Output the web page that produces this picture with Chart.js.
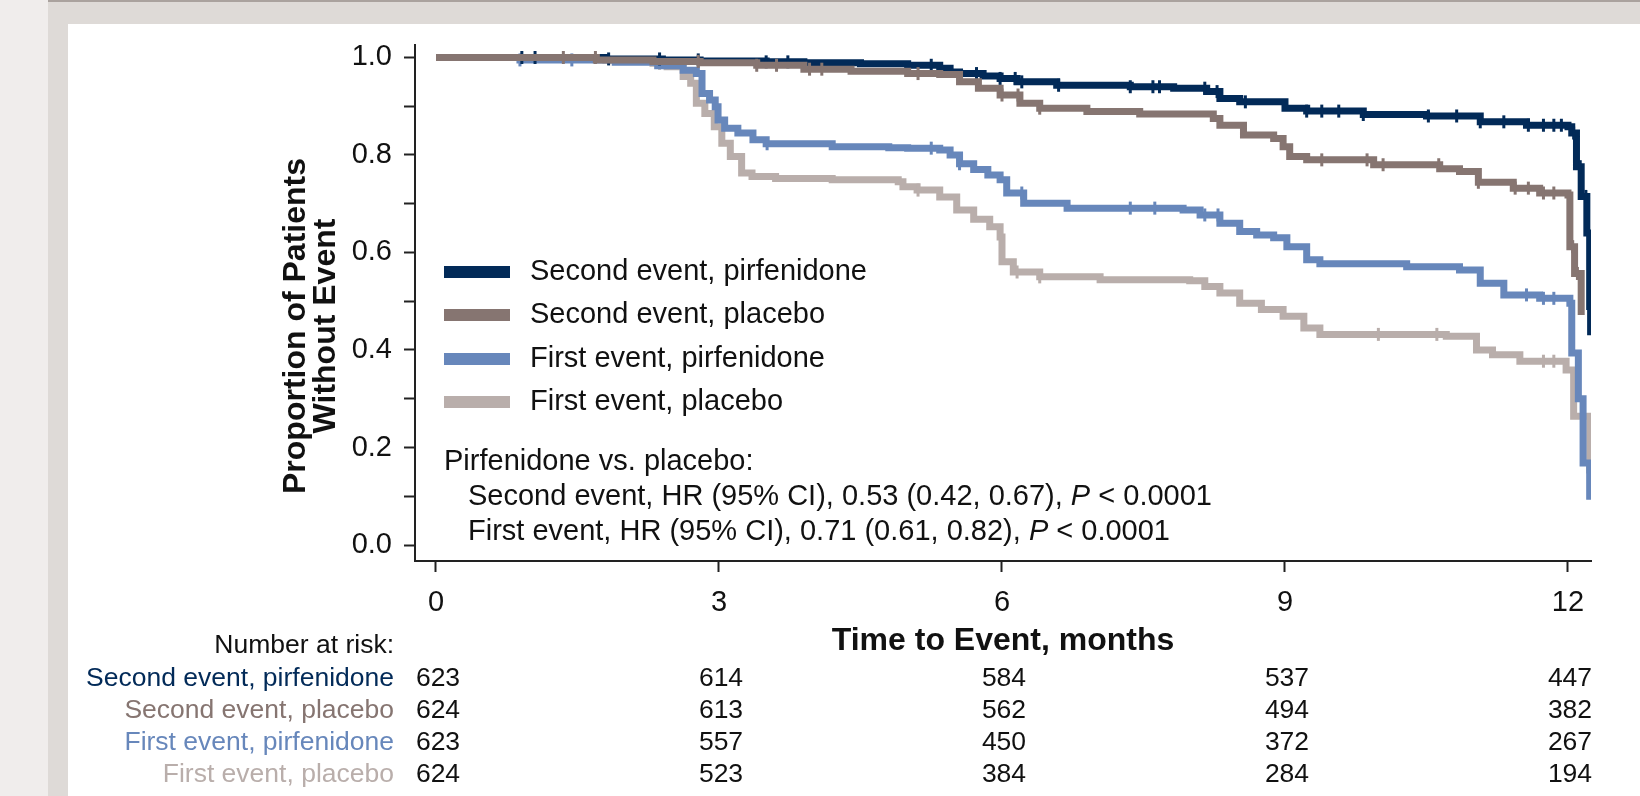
<!DOCTYPE html>
<html>
<head>
<meta charset="utf-8">
<script src="https://cdn.jsdelivr.net/npm/chart.js@4.4.1/dist/chart.umd.min.js"></script>
<style>
  html, body { margin: 0; padding: 0; width: 1640px; height: 796px; overflow: hidden; background: #f0edec; }
  #frame { position: absolute; left: 48px; top: 0; right: 0; bottom: 0; background: #dedad7; border-top: 2px solid #aaa29e; }
  #panel { position: absolute; left: 68px; top: 24px; right: 0; bottom: 0; background: #fff; }
  #km { position: absolute; left: 0; top: 0; }
</style>
</head>
<body>
<div id="frame"></div>
<div id="panel"></div>
<canvas id="km" width="1640" height="796"></canvas>
<script>
const FONT = "'Liberation Sans', Arial, sans-serif";

const seriesNames = ["Second event, pirfenidone", "Second event, placebo", "First event, pirfenidone", "First event, placebo"];
const seriesColors = ["#022a58", "#867571", "#6787bb", "#b9aeab"];

const xTicks = [0, 3, 6, 9, 12];
const yTicks = [0, 0.1, 0.2, 0.3, 0.4, 0.5, 0.6, 0.7, 0.8, 0.9, 1.0];

// Kaplan-Meier steps (months, proportion without event)
const secPirfTime = [0, 1.8, 2.4, 2.8, 3.5, 3.9, 4.5, 5.0, 5.34, 5.45, 5.55, 5.8, 5.98, 6.16, 6.58, 7.36, 7.82, 8.17, 8.31, 8.52, 9.0, 9.23, 9.83, 10.5, 11.07, 11.56, 12.0, 12.04, 12.09, 12.14, 12.2, 12.23, 12.24];
const secPirfSurv = [1.0, 0.997, 0.995, 0.993, 0.991, 0.989, 0.987, 0.984, 0.978, 0.97, 0.967, 0.962, 0.957, 0.950, 0.943, 0.940, 0.937, 0.930, 0.916, 0.909, 0.896, 0.890, 0.883, 0.880, 0.868, 0.861, 0.858, 0.845, 0.776, 0.715, 0.640, 0.489, 0.430];
const secPirfCens = [0.91, 1.05, 1.83, 2.37, 2.78, 3.5, 3.73, 5.25, 5.73, 5.98, 6.14, 6.21, 6.6, 7.36, 7.6, 7.67, 8.15, 8.28, 8.58, 9.23, 9.39, 9.57, 9.83, 10.52, 10.82, 11.07, 11.32, 11.58, 11.74, 11.85, 11.93, 12.06, 12.13, 12.19];

const secPlacTime = [0, 1.7, 2.3, 2.8, 3.4, 3.9, 4.4, 5.0, 5.34, 5.55, 5.75, 5.98, 6.19, 6.4, 6.9, 7.46, 8.24, 8.31, 8.56, 8.88, 8.98, 9.05, 9.23, 9.94, 10.64, 10.85, 11.05, 11.42, 11.7, 12.0, 12.02, 12.07, 12.14];
const secPlacSurv = [1.0, 0.995, 0.992, 0.989, 0.984, 0.976, 0.972, 0.967, 0.965, 0.95, 0.937, 0.923, 0.906, 0.896, 0.889, 0.884, 0.875, 0.861, 0.841, 0.834, 0.817, 0.797, 0.790, 0.780, 0.772, 0.766, 0.744, 0.732, 0.722, 0.718, 0.612, 0.557, 0.472];
const secPlacCens = [1.35, 1.69, 2.78, 3.4, 3.61, 3.96, 4.09, 5.11, 6.0, 6.17, 6.4, 9.39, 9.87, 10.04, 10.63, 11.05, 11.44, 11.58, 11.74, 11.85, 12.05, 12.1];

const firstPirfTime = [0, 0.89, 1.9, 2.35, 2.62, 2.76, 2.82, 2.9, 2.96, 2.99, 3.06, 3.2, 3.36, 3.5, 4.2, 4.8, 5.0, 5.34, 5.45, 5.55, 5.7, 5.85, 5.98, 6.05, 6.23, 6.69, 7.92, 8.1, 8.31, 8.52, 8.7, 8.88, 9.02, 9.23, 9.37, 10.29, 10.85, 11.07, 11.32, 11.7, 12.02, 12.04, 12.11, 12.16, 12.23];
const firstPirfSurv = [1.0, 0.995, 0.99, 0.983, 0.974, 0.967, 0.926, 0.913, 0.899, 0.872, 0.855, 0.845, 0.831, 0.823, 0.817, 0.815, 0.814, 0.810, 0.800, 0.782, 0.770, 0.759, 0.749, 0.722, 0.701, 0.691, 0.687, 0.677, 0.660, 0.643, 0.636, 0.630, 0.612, 0.585, 0.577, 0.571, 0.564, 0.537, 0.513, 0.506, 0.496, 0.394, 0.300, 0.168, 0.093];
const firstPirfCens = [0.89, 1.44, 3.51, 5.25, 5.55, 6.21, 7.36, 7.62, 8.15, 8.29, 11.56, 11.74, 11.85];

const firstPlacTime = [0, 1.8, 2.3, 2.45, 2.62, 2.7, 2.76, 2.85, 2.95, 3.03, 3.12, 3.24, 3.35, 3.6, 4.2, 4.9, 4.95, 5.1, 5.34, 5.52, 5.7, 5.87, 5.98, 6.0, 6.12, 6.4, 7.04, 7.99, 8.15, 8.31, 8.52, 8.75, 8.98, 9.2, 9.37, 10.71, 11.03, 11.2, 11.49, 11.98, 12.06, 12.23, 12.24];
const firstPlacSurv = [1.0, 0.995, 0.988, 0.981, 0.961, 0.947, 0.906, 0.885, 0.858, 0.824, 0.797, 0.763, 0.756, 0.752, 0.749, 0.745, 0.735, 0.728, 0.714, 0.687, 0.668, 0.653, 0.632, 0.581, 0.560, 0.550, 0.544, 0.542, 0.530, 0.517, 0.496, 0.483, 0.469, 0.445, 0.432, 0.428, 0.400, 0.390, 0.377, 0.359, 0.264, 0.154, 0.154];
const firstPlacCens = [2.37, 5.11, 6.16, 6.4, 9.99, 10.61, 11.74, 11.85];

// number at risk at 0, 3, 6, 9, 12 months
const riskSecPirf = [623, 614, 584, 537, 447];
const riskSecPlac = [624, 613, 562, 494, 382];
const riskFirstPirf = [623, 557, 450, 372, 267];
const riskFirstPlac = [624, 523, 384, 284, 194];

const steps = (t, s) => t.map((x, i) => ({ x: x, y: s[i] }));
function survAt(t, s, x) {
  let v = s[0];
  for (let i = 0; i < t.length; i++) if (t[i] <= x) v = s[i];
  return v;
}
const censors = (t, s, c) => c.map(x => ({ x: x, y: survAt(t, s, x) }));

function lineSet(data, color) {
  return { data: data, borderColor: color, borderWidth: 7, stepped: true, pointRadius: 0,
           borderCapStyle: "butt", borderJoinStyle: "miter", fill: false };
}
function censSet(data, color) {
  return { data: data, showLine: false, pointStyle: "line", rotation: 90, pointRadius: 6.5,
           pointBorderWidth: 3, pointBorderColor: color, pointBackgroundColor: color };
}

const curves = [
  [secPlacTime, secPlacSurv, secPlacCens, 1],
  [secPirfTime, secPirfSurv, secPirfCens, 0],
  [firstPirfTime, firstPirfSurv, firstPirfCens, 2],
  [firstPlacTime, firstPlacSurv, firstPlacCens, 3]
];
const datasets = [];
curves.forEach(([t, s, c, k]) => {
  datasets.push(censSet(censors(t, s, c), seriesColors[k]));
  datasets.push(lineSet(steps(t, s), seriesColors[k]));
});

const extras = {
  id: "extras",
  afterDraw(chart) {
    const ctx = chart.ctx;
    const xs = chart.scales.x;
    ctx.save();
    ctx.fillStyle = "#111";
    ctx.textBaseline = "middle";

    // axis titles
    ctx.font = "bold 32px " + FONT;
    ctx.textAlign = "center";
    ctx.fillText("Time to Event, months", (chart.chartArea.left + chart.chartArea.right) / 2, 641);
    ctx.save();
    ctx.translate(0, 326);
    ctx.rotate(-Math.PI / 2);
    ctx.fillText("Proportion of Patients", 0, 296);
    ctx.fillText("Without Event", 0, 326);
    ctx.restore();

    // legend
    const legY = [272, 315, 359, 402];
    ctx.font = "29px " + FONT;
    ctx.textAlign = "left";
    seriesNames.forEach((n, i) => {
      ctx.fillStyle = seriesColors[i];
      ctx.fillRect(444, legY[i] - 6, 66, 12);
      ctx.fillStyle = "#111";
      ctx.fillText(n, 530, legY[i]);
    });

    // hazard ratio note
    ctx.fillText("Pirfenidone vs. placebo:", 444, 462);
    const hr = [["Second event, HR (95% CI), 0.53 (0.42, 0.67), ", 497],
                ["First event, HR (95% CI), 0.71 (0.61, 0.82), ", 532]];
    hr.forEach(([txt, y]) => {
      let x = 468;
      ctx.font = "29px " + FONT;
      ctx.fillText(txt, x, y);
      x += ctx.measureText(txt).width;
      ctx.font = "italic 29px " + FONT;
      ctx.fillText("P", x, y);
      x += ctx.measureText("P").width;
      ctx.font = "29px " + FONT;
      ctx.fillText(" < 0.0001", x, y);
    });

    // number at risk
    ctx.font = "26.5px " + FONT;
    ctx.textAlign = "right";
    ctx.fillText("Number at risk:", 394, 646);
    const rows = [riskSecPirf, riskSecPlac, riskFirstPirf, riskFirstPlac];
    const rowY = [679, 711, 743, 775];
    rows.forEach((r, i) => {
      ctx.textAlign = "right";
      ctx.fillStyle = seriesColors[i];
      ctx.fillText(seriesNames[i], 394, rowY[i]);
      ctx.textAlign = "center";
      ctx.fillStyle = "#111";
      r.forEach((v, j) => ctx.fillText(String(v), xs.getPixelForValue(xTicks[j]) + 2, rowY[i]));
    });
    ctx.restore();
  }
};

new Chart(document.getElementById("km"), {
  type: "line",
  data: { datasets: datasets },
  options: {
    responsive: false,
    animation: false,
    events: [],
    layout: { padding: { left: 0, right: 49, top: 45, bottom: 0 } },
    plugins: { legend: { display: false }, tooltip: { enabled: false } },
    scales: {
      x: {
        type: "linear", min: -0.2226, max: 12.244,
        afterBuildTicks: s => { s.ticks = xTicks.map(v => ({ value: v })); },
        afterFit: s => { s.height = 235; },
        grid: { drawOnChartArea: false, drawTicks: true, tickLength: 11, tickWidth: 2, tickColor: "#222" },
        border: { display: true, color: "#222", width: 2 },
        ticks: { font: { size: 29, family: FONT }, color: "#111", padding: 14, maxRotation: 0, autoSkip: false }
      },
      y: {
        type: "linear", min: -0.0328, max: 1.0256,
        afterBuildTicks: s => { s.ticks = yTicks.map(v => ({ value: v })); },
        afterFit: s => { s.width = 415; },
        grid: { drawOnChartArea: false, drawTicks: true, tickLength: 11, tickWidth: 2, tickColor: "#222" },
        border: { display: true, color: "#222", width: 2 },
        ticks: {
          font: { size: 29, family: FONT }, color: "#111", padding: 12, autoSkip: false,
          callback: v => (Math.round(v * 10) % 2 === 0 ? v.toFixed(1) : "")
        }
      }
    }
  },
  plugins: [extras]
});
</script>
</body>
</html>
